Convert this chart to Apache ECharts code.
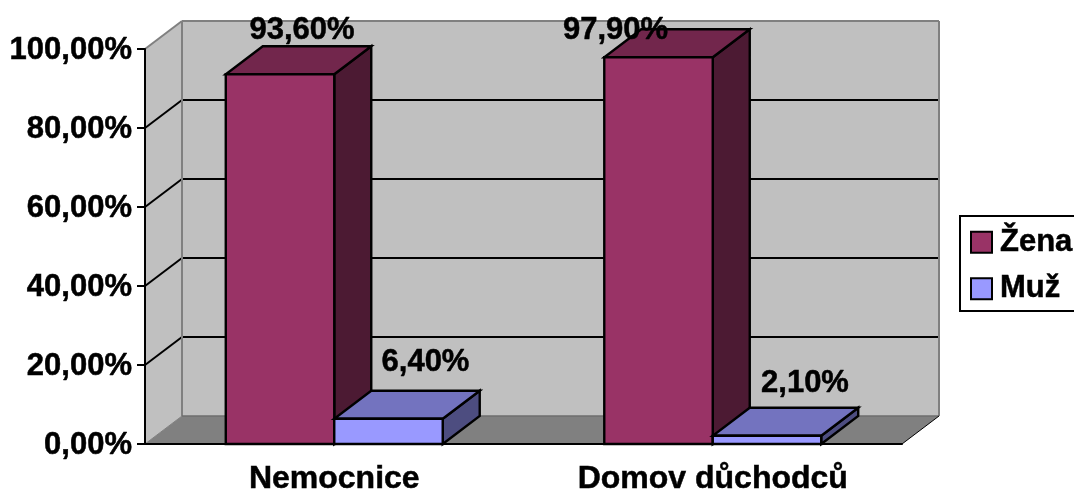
<!DOCTYPE html>
<html>
<head>
<meta charset="utf-8">
<style>
html,body{margin:0;padding:0;background:#fff;overflow:hidden}
#chart{width:1074px;height:490px}
</style>
<script src="https://cdn.jsdelivr.net/npm/echarts@6/dist/echarts.min.js"></script>
</head>
<body>
<div id="chart"></div>
<script>
// Survey shares by facility and sex, in percent
const categories = ['Nemocnice', 'Domov důchodců'];
const zenaValues = [93.6, 97.9];
const muzValues = [6.4, 2.1];
const axisTicks = [0, 20, 40, 60, 80, 100];

// Pseudo-3D projection: the back plane sits up and to the right of the front plane
const DEPTH_X = 37;
const DEPTH_Y = -28;
const BAR_RATIO = 0.2866;
const FONT = '"Liberation Sans", Arial, sans-serif';
const FONT_SIZE = 31;
const TEXT_WEIGHT = { textBorderColor: '#000', textBorderWidth: 0.5 };

const percent = v => v.toFixed(2).replace('.', ',') + '%';

const back = p => [p[0] + DEPTH_X, p[1] + DEPTH_Y];

function poly(points, fill, stroke, width) {
  return {
    type: 'polygon',
    shape: { points },
    style: { fill, stroke: stroke || null, lineWidth: width || 0, lineJoin: 'miter' }
  };
}
function seg(a, b, stroke, width) {
  return {
    type: 'line',
    shape: { x1: a[0], y1: a[1], x2: b[0], y2: b[1] },
    style: { stroke, lineWidth: width }
  };
}

// Walls, floor and the gridlines that run along them
function renderWalls(params, api) {
  const cs = params.coordSys;
  const x0 = cs.x, x1 = cs.x + cs.width;
  const yZero = api.coord([0, 0])[1];
  const yTop = api.coord([0, 100])[1];
  const fl = [x0, yZero], fr = [x1, yZero], tl = [x0, yTop];
  const children = [
    poly([back(fl), back(fr), back([x1, yTop]), back(tl)], '#c0c0c0'),
    poly([fl, back(fl), back(tl), tl], '#c0c0c0'),
    poly([fl, fr, back(fr), back(fl)], '#808080')
  ];
  axisTicks.forEach(t => {
    if (t === 0 || t === 100) return;
    const y = api.coord([0, t])[1];
    children.push(seg([x0, y], back([x0, y]), '#000', 2));
    children.push(seg(back([x0, y]), back([x1, y]), '#000', 2));
  });
  const grey = '#808080';
  children.push(seg(tl, back(tl), grey, 2));
  children.push(seg(back(tl), back([x1, yTop]), grey, 2));
  children.push(seg(back([x1, yTop]), back(fr), grey, 2));
  children.push(seg(back(tl), back(fl), grey, 2));
  children.push(seg(back(fl), back(fr), '#6e6e6e', 1.5));
  children.push(seg(fl, back(fl), grey, 1));
  children.push(seg(fr, back(fr), '#000', 1));
  return { type: 'group', children };
}

// One extruded bar: front, top and side faces plus its value text
function barRenderer(faces, side, labelOffsets) {
  return function (params, api) {
    const idx = api.value(0);
    const val = api.value(1);
    const c = api.coord([idx, 0]);
    const top = api.coord([idx, val])[1];
    const w = api.size([1, 0])[0] * BAR_RATIO;
    const xl = side < 0 ? c[0] - w : c[0];
    const xr = xl + w;
    const a = [xl, top], b = [xr, top], d = [xr, c[1]], e = [xl, c[1]];
    const off = labelOffsets[params.dataIndex];
    return {
      type: 'group',
      children: [
        poly([b, d, back(d), back(b)], faces.side, '#000', 2.4),
        poly([a, b, back(b), back(a)], faces.top, '#000', 2.4),
        poly([a, b, d, e], faces.front, '#000', 2.4),
        {
          type: 'text',
          style: {
            text: percent(val),
            x: (xl + xr) / 2 + off[0],
            y: top + off[1],
            align: 'center',
            verticalAlign: 'top',
            font: 'bold ' + FONT_SIZE + 'px ' + FONT,
            fill: '#000',
            stroke: '#000',
            lineWidth: 0.5
          }
        }
      ]
    };
  };
}

const zenaFaces = { front: '#993366', top: '#72264c', side: '#4c1a33' };
const muzFaces = { front: '#9999ff', top: '#7373bf', side: '#4d4d80' };

// Value text placement relative to each bar's front-top centre
const zenaLabelOffsets = [[22, -59], [-43, -42]];
const muzLabelOffsets = [[37, -72], [38, -68]];

const chart = echarts.init(document.getElementById('chart'), null, { renderer: 'canvas' });
chart.setOption({
  animation: false,
  backgroundColor: '#fff',
  grid: { left: 145, top: 49, width: 757, height: 395, containLabel: false, outerBoundsMode: 'none' },
  xAxis: {
    type: 'category',
    data: categories,
    z: 5,
    axisLine: { lineStyle: { color: '#000', width: 2 } },
    axisTick: { length: 8, alignWithLabel: false, lineStyle: { color: '#000', width: 2 } },
    axisLabel: Object.assign({ color: '#000', fontFamily: FONT, fontWeight: 'bold', fontSize: 32, margin: 19, hideOverlap: false }, TEXT_WEIGHT)
  },
  yAxis: {
    type: 'value',
    min: 0,
    max: 100,
    interval: 20,
    z: 5,
    splitLine: { show: false },
    axisLine: { show: true, lineStyle: { color: '#000', width: 2 } },
    axisTick: { show: true, length: 8, lineStyle: { color: '#000', width: 2 } },
    axisLabel: Object.assign({ color: '#000', fontFamily: FONT, fontWeight: 'bold', fontSize: FONT_SIZE, margin: 13, verticalAlign: 'top', padding: [-14, 0, 0, 0], formatter: percent }, TEXT_WEIGHT)
  },
  legend: {
    orient: 'vertical',
    left: 960,
    top: 216,
    padding: [10.5, 4, 6.5, 10],
    itemGap: 15,
    itemWidth: 21,
    itemHeight: 21,
    borderColor: '#000',
    borderWidth: 2,
    selectedMode: false,
    textStyle: Object.assign({ color: '#000', fontFamily: FONT, fontWeight: 'bold', fontSize: FONT_SIZE, padding: [0, 0, 0, 3] }, TEXT_WEIGHT),
    data: [
      { name: 'Žena', icon: 'rect', itemStyle: { color: zenaFaces.front, borderColor: '#000', borderWidth: 2 } },
      { name: 'Muž', icon: 'rect', itemStyle: { color: muzFaces.front, borderColor: '#000', borderWidth: 2 } }
    ]
  },
  series: [
    {
      type: 'custom', name: 'walls', z: 1, silent: true,
      renderItem: renderWalls,
      data: [[0, 0]]
    },
    {
      type: 'custom', name: 'Žena', z: 6, silent: true,
      itemStyle: { color: zenaFaces.front },
      renderItem: barRenderer(zenaFaces, -1, zenaLabelOffsets),
      data: zenaValues.map((v, i) => [i, v])
    },
    {
      type: 'custom', name: 'Muž', z: 7, silent: true,
      itemStyle: { color: muzFaces.front },
      renderItem: barRenderer(muzFaces, 1, muzLabelOffsets),
      data: muzValues.map((v, i) => [i, v])
    }
  ]
});
</script>
</body>
</html>
